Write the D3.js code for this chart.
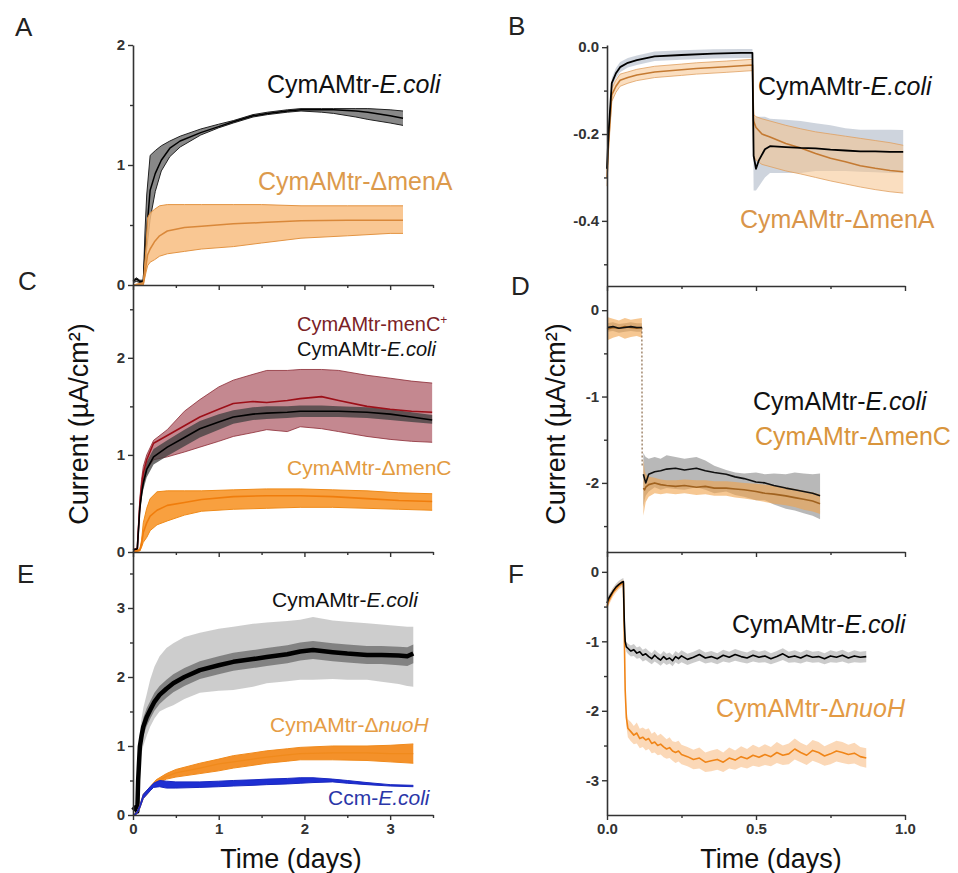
<!DOCTYPE html>
<html><head><meta charset="utf-8">
<script src="https://cdn.jsdelivr.net/npm/d3@7"></script>
<style>body{margin:0;background:#fff}svg{display:block}</style>
</head><body>
<svg id="chart" width="958" height="873"></svg>
<script>
// ---------------- DATA ----------------
// Panel A (time in days, current in uA/cm2)
const aBlkT    = [0, 0.04, 0.08, 0.12, 0.14, 0.16, 0.2, 0.26, 0.33, 0.43, 0.55, 0.79, 1.0, 1.17, 1.4, 1.57, 1.8, 1.96, 2.2, 2.34, 2.6, 2.74, 3.0, 3.15];
const aBlkMean = [0.03, 0.05, 0.03, 0.03, 0.25, 0.45, 0.79, 0.93, 1.04, 1.14, 1.2, 1.27, 1.32, 1.36, 1.41, 1.43, 1.45, 1.46, 1.46, 1.46, 1.45, 1.44, 1.41, 1.39];
const aBlkLo   = [0.02, 0.03, 0.02, 0.02, 0.12, 0.3, 0.55, 0.78, 0.95, 1.07, 1.15, 1.25, 1.31, 1.35, 1.4, 1.42, 1.44, 1.45, 1.44, 1.43, 1.4, 1.38, 1.35, 1.33];
const aBlkHi   = [0.04, 0.06, 0.04, 0.04, 0.45, 0.75, 1.08, 1.12, 1.16, 1.2, 1.24, 1.3, 1.34, 1.37, 1.42, 1.44, 1.46, 1.47, 1.47, 1.47, 1.47, 1.47, 1.46, 1.45];
const aOrgT    = [0, 0.12, 0.15, 0.17, 0.2, 0.25, 0.31, 0.4, 0.6, 0.8, 1.17, 1.5, 1.96, 2.5, 3.0, 3.15];
const aOrgMean = [0.0, 0.01, 0.15, 0.25, 0.3, 0.36, 0.41, 0.45, 0.48, 0.49, 0.51, 0.52, 0.535, 0.54, 0.54, 0.54];
const aOrgLo   = [0.0, 0.0, 0.1, 0.16, 0.19, 0.21, 0.24, 0.26, 0.28, 0.3, 0.32, 0.35, 0.39, 0.41, 0.43, 0.43];
const aOrgHi   = [0.0, 0.02, 0.3, 0.56, 0.6, 0.63, 0.66, 0.67, 0.67, 0.67, 0.67, 0.67, 0.66, 0.66, 0.66, 0.66];

// Panel B
const bBlkT    = [0, 0.005, 0.016, 0.03, 0.044, 0.07, 0.1, 0.16, 0.25, 0.357, 0.45, 0.488, 0.492, 0.5, 0.51, 0.53, 0.547, 0.6, 0.65, 0.7, 0.75, 0.8, 0.85, 0.9, 0.95, 0.994];
const bBlkMean = [-0.28, -0.2, -0.083, -0.06, -0.046, -0.036, -0.03, -0.021, -0.018, -0.015, -0.013, -0.013, -0.25, -0.28, -0.26, -0.235, -0.228, -0.23, -0.232, -0.233, -0.236, -0.238, -0.24, -0.24, -0.241, -0.241];
const bBlkLo   = [-0.3, -0.22, -0.095, -0.072, -0.058, -0.047, -0.041, -0.032, -0.029, -0.026, -0.025, -0.025, -0.33, -0.33, -0.32, -0.3, -0.29, -0.29, -0.29, -0.285, -0.285, -0.285, -0.287, -0.288, -0.29, -0.29];
const bBlkHi   = [-0.26, -0.18, -0.071, -0.048, -0.034, -0.025, -0.019, -0.01, -0.007, -0.005, -0.004, -0.004, -0.17, -0.16, -0.16, -0.16, -0.165, -0.167, -0.17, -0.175, -0.18, -0.187, -0.19, -0.19, -0.19, -0.191];
const bOrgT    = [0, 0.005, 0.016, 0.03, 0.044, 0.07, 0.1, 0.16, 0.25, 0.3, 0.4, 0.488, 0.492, 0.5, 0.52, 0.547, 0.6, 0.65, 0.7, 0.75, 0.8, 0.85, 0.9, 0.95, 0.994];
const bOrgMean = [-0.3, -0.22, -0.11, -0.09, -0.076, -0.07, -0.064, -0.057, -0.052, -0.049, -0.045, -0.041, -0.17, -0.185, -0.2, -0.207, -0.222, -0.232, -0.245, -0.256, -0.264, -0.273, -0.279, -0.284, -0.287];
const bOrgLo   = [-0.32, -0.24, -0.125, -0.104, -0.09, -0.083, -0.077, -0.07, -0.065, -0.062, -0.058, -0.054, -0.25, -0.26, -0.27, -0.275, -0.285, -0.292, -0.3, -0.308, -0.315, -0.322, -0.328, -0.333, -0.336];
const bOrgHi   = [-0.28, -0.2, -0.095, -0.076, -0.062, -0.057, -0.051, -0.044, -0.039, -0.036, -0.032, -0.028, -0.155, -0.16, -0.165, -0.17, -0.18, -0.188, -0.195, -0.2, -0.205, -0.21, -0.215, -0.22, -0.226];

// Panel C
const cT       = [0, 0.05, 0.08, 0.1, 0.12, 0.16, 0.24, 0.4, 0.6, 0.78, 1.0, 1.17, 1.4, 1.56, 1.8, 1.95, 2.2, 2.4, 2.73, 3.0, 3.25, 3.49];
const cRedMean = [0.02, 0.03, 0.5, 0.68, 0.81, 0.95, 1.12, 1.2, 1.3, 1.39, 1.47, 1.53, 1.55, 1.54, 1.56, 1.58, 1.6, 1.56, 1.5, 1.47, 1.45, 1.44];
const cRedLo   = [0.01, 0.02, 0.45, 0.6, 0.72, 0.85, 0.95, 0.98, 1.03, 1.08, 1.14, 1.19, 1.23, 1.26, 1.24, 1.29, 1.27, 1.24, 1.19, 1.16, 1.14, 1.13];
const cRedHi   = [0.03, 0.04, 0.55, 0.75, 0.88, 1.0, 1.15, 1.26, 1.45, 1.57, 1.7, 1.77, 1.83, 1.87, 1.87, 1.88, 1.88, 1.87, 1.82, 1.79, 1.76, 1.74];
const cBlkMean = [0.02, 0.03, 0.45, 0.6, 0.71, 0.85, 0.98, 1.08, 1.18, 1.27, 1.34, 1.39, 1.42, 1.43, 1.44, 1.45, 1.45, 1.45, 1.44, 1.42, 1.39, 1.36];
const cBlkLo   = [0.01, 0.02, 0.4, 0.54, 0.64, 0.77, 0.9, 0.99, 1.09, 1.18, 1.26, 1.32, 1.36, 1.37, 1.38, 1.39, 1.39, 1.39, 1.38, 1.36, 1.34, 1.32];
const cBlkHi   = [0.03, 0.04, 0.5, 0.66, 0.78, 0.93, 1.06, 1.15, 1.26, 1.35, 1.42, 1.46, 1.49, 1.5, 1.5, 1.51, 1.51, 1.5, 1.49, 1.47, 1.44, 1.41];
const cOrgT    = [0, 0.08, 0.1, 0.12, 0.16, 0.2, 0.28, 0.4, 0.6, 0.8, 1.17, 1.56, 1.95, 2.33, 2.73, 3.1, 3.49];
const cOrgMean = [0.0, 0.02, 0.08, 0.2, 0.3, 0.37, 0.43, 0.48, 0.51, 0.54, 0.57, 0.58, 0.58, 0.57, 0.55, 0.53, 0.52];
const cOrgLo   = [0.0, 0.01, 0.05, 0.1, 0.15, 0.22, 0.28, 0.32, 0.38, 0.42, 0.44, 0.45, 0.46, 0.46, 0.45, 0.44, 0.43];
const cOrgHi   = [0.0, 0.03, 0.12, 0.3, 0.45, 0.55, 0.62, 0.63, 0.63, 0.63, 0.64, 0.65, 0.65, 0.64, 0.63, 0.61, 0.6];

// Panel D (null = gap between the two recording phases)
const dT       = [0, 0.02, 0.04, 0.06, 0.08, 0.1, 0.117, null, 0.122, 0.126, 0.13, 0.14, 0.16, 0.18, 0.2, 0.23, 0.26, 0.3, 0.33, 0.36, 0.4, 0.43, 0.46, 0.5, 0.53, 0.56, 0.6, 0.63, 0.66, 0.69, 0.715];
const dBlkMean = [-0.2, -0.19, -0.21, -0.2, -0.19, -0.2, -0.2, null, -1.9, -1.95, -2.0, -1.9, -1.87, -1.86, -1.84, -1.83, -1.85, -1.83, -1.86, -1.88, -1.9, -1.93, -1.95, -1.99, -2.0, -2.03, -2.06, -2.08, -2.1, -2.12, -2.15];
const dBlkLo   = [-0.25, -0.24, -0.26, -0.25, -0.24, -0.25, -0.25, null, -2.28, -2.2, -2.15, -2.1, -2.05, -2.08, -2.06, -2.07, -2.08, -2.05, -2.08, -2.12, -2.1, -2.14, -2.16, -2.2, -2.2, -2.25, -2.3, -2.32, -2.35, -2.38, -2.42];
const dBlkHi   = [-0.15, -0.14, -0.16, -0.15, -0.14, -0.15, -0.15, null, -1.65, -1.68, -1.7, -1.72, -1.7, -1.72, -1.68, -1.7, -1.72, -1.7, -1.74, -1.8, -1.85, -1.88, -1.89, -1.88, -1.9, -1.89, -1.9, -1.88, -1.89, -1.9, -1.89];
const dOrgMean = [-0.22, -0.2, -0.21, -0.19, -0.2, -0.21, -0.2, null, -2.06, -2.08, -2.05, -2.02, -2.0, -2.02, -2.03, -2.04, -2.03, -2.05, -2.04, -2.06, -2.06, -2.07, -2.08, -2.1, -2.12, -2.13, -2.15, -2.17, -2.19, -2.21, -2.24];
const dOrgLo   = [-0.35, -0.32, -0.3, -0.33, -0.31, -0.3, -0.32, null, -2.38, -2.3, -2.22, -2.16, -2.12, -2.13, -2.12, -2.13, -2.12, -2.14, -2.13, -2.15, -2.15, -2.17, -2.18, -2.2, -2.22, -2.24, -2.26, -2.28, -2.31, -2.33, -2.36];
const dOrgHi   = [-0.08, -0.1, -0.12, -0.09, -0.11, -0.1, -0.09, null, -1.72, -1.85, -1.9, -1.93, -1.94, -1.96, -1.97, -1.97, -1.96, -1.97, -1.97, -1.98, -1.98, -1.99, -2.0, -2.01, -2.02, -2.03, -2.05, -2.07, -2.09, -2.11, -2.13];
const dDropT   = [0.117, 0.118];
const dDropV   = [-0.2, -1.8];

// Panel E
const eBlkT    = [0, 0.02, 0.04, 0.05, 0.06, 0.08, 0.1, 0.12, 0.16, 0.2, 0.25, 0.31, 0.39, 0.47, 0.6, 0.78, 1.0, 1.17, 1.4, 1.56, 1.8, 1.95, 2.1, 2.33, 2.5, 2.73, 2.9, 3.1, 3.2, 3.27];
const eBlkMean = [0.07, 0.1, 0.12, 0.05, 0.5, 0.99, 1.15, 1.28, 1.42, 1.52, 1.64, 1.74, 1.83, 1.91, 2.0, 2.1, 2.17, 2.22, 2.26, 2.29, 2.33, 2.37, 2.39, 2.36, 2.34, 2.32, 2.32, 2.31, 2.3, 2.34];
const eBlkLoIn = [0.06, 0.09, 0.11, 0.04, 0.42, 0.88, 1.03, 1.15, 1.29, 1.39, 1.51, 1.61, 1.7, 1.78, 1.87, 1.97, 2.04, 2.09, 2.13, 2.16, 2.2, 2.24, 2.26, 2.23, 2.21, 2.19, 2.19, 2.17, 2.16, 2.2];
const eBlkHiIn = [0.08, 0.11, 0.13, 0.06, 0.58, 1.1, 1.27, 1.41, 1.55, 1.65, 1.77, 1.87, 1.96, 2.04, 2.13, 2.23, 2.3, 2.35, 2.39, 2.42, 2.46, 2.5, 2.52, 2.49, 2.47, 2.45, 2.45, 2.44, 2.43, 2.47];
const eBlkLo   = [0.05, 0.08, 0.1, 0.03, 0.35, 0.75, 0.9, 1.0, 1.15, 1.28, 1.4, 1.5, 1.55, 1.59, 1.68, 1.77, 1.8, 1.81, 1.86, 1.91, 1.94, 1.96, 1.96, 1.97, 1.96, 1.96, 1.93, 1.9, 1.87, 1.86];
const eBlkHi   = [0.09, 0.12, 0.14, 0.07, 0.65, 1.2, 1.4, 1.55, 1.75, 1.96, 2.15, 2.3, 2.42, 2.49, 2.58, 2.64, 2.7, 2.73, 2.77, 2.79, 2.81, 2.83, 2.87, 2.82, 2.8, 2.78, 2.76, 2.74, 2.73, 2.73];
const eOrgT    = [0, 0.04, 0.08, 0.12, 0.2, 0.27, 0.39, 0.5, 0.78, 1.0, 1.17, 1.4, 1.56, 1.8, 1.95, 2.33, 2.73, 3.0, 3.27];
const eOrgMean = [0.0, 0.02, 0.12, 0.27, 0.38, 0.48, 0.56, 0.61, 0.68, 0.74, 0.77, 0.81, 0.84, 0.87, 0.89, 0.9, 0.9, 0.89, 0.89];
const eOrgLo   = [0, 0.01, 0.1, 0.24, 0.35, 0.45, 0.52, 0.55, 0.6, 0.64, 0.68, 0.72, 0.75, 0.78, 0.8, 0.8, 0.79, 0.77, 0.75];
const eOrgHi   = [0, 0.03, 0.14, 0.3, 0.41, 0.51, 0.6, 0.66, 0.75, 0.81, 0.86, 0.9, 0.93, 0.96, 0.98, 1.0, 1.0, 1.01, 1.03];
const eBluT    = [0, 0.04, 0.08, 0.12, 0.2, 0.24, 0.31, 0.39, 0.5, 0.78, 1.0, 1.17, 1.4, 1.56, 1.8, 1.95, 2.1, 2.33, 2.5, 2.73, 3.0, 3.27];
const eBluMean = [0.0, 0.02, 0.12, 0.27, 0.38, 0.43, 0.46, 0.44, 0.44, 0.44, 0.45, 0.46, 0.47, 0.48, 0.49, 0.5, 0.505, 0.5, 0.48, 0.455, 0.43, 0.42];
const eBluLo   = [0, 0.01, 0.1, 0.24, 0.35, 0.4, 0.41, 0.39, 0.39, 0.4, 0.41, 0.42, 0.43, 0.44, 0.45, 0.46, 0.47, 0.48, 0.46, 0.44, 0.42, 0.41];
const eBluHi   = [0, 0.03, 0.14, 0.3, 0.41, 0.46, 0.5, 0.49, 0.48, 0.48, 0.49, 0.5, 0.51, 0.52, 0.53, 0.54, 0.54, 0.52, 0.5, 0.47, 0.44, 0.43];

// Panel F
const fT       = [0, 0.006, 0.013, 0.02, 0.03, 0.04, 0.05, 0.055, 0.058, 0.061, 0.065, 0.07, 0.08, 0.09, 0.1, 0.11, 0.12, 0.13, 0.14, 0.15, 0.16, 0.17, 0.18, 0.19, 0.2, 0.21, 0.22, 0.23, 0.24, 0.25, 0.27, 0.29, 0.31, 0.33, 0.35, 0.37, 0.39, 0.41, 0.43, 0.45, 0.47, 0.49, 0.51, 0.53, 0.55, 0.57, 0.59, 0.61, 0.63, 0.65, 0.67, 0.69, 0.71, 0.73, 0.75, 0.77, 0.79, 0.81, 0.83, 0.85, 0.87];
const fBlkMean = [-0.45, -0.38, -0.33, -0.28, -0.22, -0.18, -0.15, -0.14, -0.7, -1.0, -1.08, -1.1, -1.14, -1.12, -1.17, -1.15, -1.2, -1.18, -1.22, -1.25, -1.2, -1.24, -1.27, -1.22, -1.26, -1.24, -1.28, -1.22, -1.25, -1.21, -1.26, -1.23, -1.19, -1.24, -1.22, -1.25, -1.2, -1.23, -1.19, -1.22, -1.24, -1.2, -1.23, -1.21, -1.25, -1.22, -1.18, -1.23, -1.21, -1.24, -1.2, -1.23, -1.22, -1.25, -1.21, -1.23, -1.2, -1.24, -1.21, -1.23, -1.22];
const fBlkLo   = [-0.5, -0.43, -0.38, -0.33, -0.27, -0.23, -0.2, -0.19, -0.75, -1.05, -1.15, -1.18, -1.22, -1.21, -1.25, -1.24, -1.29, -1.27, -1.3, -1.33, -1.29, -1.32, -1.35, -1.31, -1.34, -1.32, -1.36, -1.3, -1.33, -1.3, -1.34, -1.31, -1.28, -1.32, -1.3, -1.33, -1.29, -1.31, -1.28, -1.3, -1.32, -1.29, -1.31, -1.3, -1.33, -1.3, -1.27, -1.31, -1.3, -1.32, -1.29, -1.31, -1.3, -1.33, -1.3, -1.31, -1.29, -1.32, -1.3, -1.31, -1.3];
const fBlkHi   = [-0.4, -0.33, -0.28, -0.23, -0.17, -0.13, -0.1, -0.09, -0.65, -0.95, -1.01, -1.03, -1.06, -1.04, -1.09, -1.07, -1.12, -1.1, -1.14, -1.17, -1.12, -1.16, -1.19, -1.14, -1.18, -1.16, -1.2, -1.14, -1.17, -1.13, -1.18, -1.15, -1.11, -1.16, -1.14, -1.17, -1.12, -1.15, -1.11, -1.14, -1.16, -1.12, -1.15, -1.13, -1.17, -1.14, -1.1, -1.15, -1.13, -1.16, -1.12, -1.15, -1.14, -1.17, -1.13, -1.15, -1.12, -1.16, -1.13, -1.15, -1.14];
const fOrgMean = [-0.5, -0.42, -0.36, -0.3, -0.25, -0.2, -0.17, -0.16, -0.9, -1.7, -2.1, -2.25, -2.3, -2.35, -2.32, -2.4, -2.38, -2.42, -2.4, -2.47, -2.45, -2.5, -2.48, -2.52, -2.55, -2.53, -2.58, -2.6, -2.58, -2.63, -2.66, -2.7, -2.68, -2.74, -2.72, -2.7, -2.74, -2.68, -2.71, -2.66, -2.69, -2.64, -2.67, -2.63, -2.66, -2.6, -2.64, -2.62, -2.55, -2.6, -2.64, -2.57, -2.6, -2.65, -2.62, -2.58, -2.6, -2.63, -2.61, -2.66, -2.68];
const fOrgLo   = [-0.56, -0.48, -0.42, -0.36, -0.3, -0.25, -0.22, -0.21, -1.0, -1.8, -2.22, -2.38, -2.44, -2.48, -2.47, -2.54, -2.52, -2.57, -2.55, -2.61, -2.6, -2.64, -2.63, -2.67, -2.69, -2.68, -2.72, -2.75, -2.73, -2.77, -2.8, -2.84, -2.83, -2.88, -2.87, -2.85, -2.88, -2.83, -2.85, -2.81, -2.83, -2.79, -2.81, -2.78, -2.8, -2.75, -2.78, -2.77, -2.7, -2.74, -2.78, -2.72, -2.75, -2.79, -2.77, -2.73, -2.75, -2.77, -2.76, -2.8, -2.82];
const fOrgHi   = [-0.44, -0.36, -0.3, -0.24, -0.2, -0.15, -0.12, -0.11, -0.8, -1.6, -1.98, -2.12, -2.16, -2.22, -2.17, -2.26, -2.24, -2.27, -2.25, -2.33, -2.3, -2.36, -2.33, -2.37, -2.41, -2.38, -2.44, -2.45, -2.43, -2.49, -2.52, -2.56, -2.53, -2.6, -2.57, -2.55, -2.6, -2.53, -2.57, -2.51, -2.55, -2.49, -2.53, -2.48, -2.52, -2.45, -2.5, -2.47, -2.4, -2.46, -2.5, -2.42, -2.45, -2.51, -2.47, -2.43, -2.45, -2.49, -2.46, -2.52, -2.54];

// Ticks
const leftXMajor = [0, 1, 2, 3], leftXMinor = [0.5, 1.5, 2.5, 3.5];
const rightXMajor = [0, 0.5, 1.0], rightXMinor = [0.25, 0.75];
const aYMajor = [0, 1, 2], aYMinor = [0.5, 1.5];
const cYMajor = [0, 1, 2], cYMinor = [0.5, 1.5, 2.5];
const eYMajor = [0, 1, 2, 3], eYMinor = [0.5, 1.5, 2.5, 3.5];
const bYMajor = [0, -0.2, -0.4], bYMinor = [-0.1, -0.3, -0.5];
const dYMajor = [0, -1, -2], dYMinor = [-0.5, -1.5, -2.5];
const fYMajor = [0, -1, -2, -3], fYMinor = [-0.5, -1.5, -2.5];

// Text
const panelLetters = ["A", "B", "C", "D", "E", "F"];
const yTitle = "Current (\u00B5A/cm\u00B2)";
const xTitle = "Time (days)";

// ---------------- DRAWING ----------------
const FONT = '"Liberation Sans", Arial, Helvetica, sans-serif';
const svg = d3.select("#chart");

const xL = d3.scaleLinear().domain([0, 3.5]).range([133, 433]);
const xR = d3.scaleLinear().domain([0, 1.0]).range([607, 905]);
const yA = d3.scaleLinear().domain([0, 2]).range([285, 45]);
const yC = d3.scaleLinear().domain([0, 2.75]).range([552, 285]);
const yE = d3.scaleLinear().domain([0, 3.826]).range([815, 551]);
const yB = d3.scaleLinear().domain([-0.55, 0.005]).range([286, 45]);
const yD = d3.scaleLinear().domain([-2.8, 0.28]).range([552, 286]);
const yF = d3.scaleLinear().domain([-3.5, 0.3]).range([815, 551]);

const gData = svg.append("g");
const gAxes = svg.append("g");
const gText = svg.append("g");

function zipRows(t, a, b) {
  return t.map((v, i) => ({ t: v, a: a[i], b: b ? b[i] : null }));
}
function band(x, y, t, lo, hi, fill, op, edge, edgeW) {
  const rows = zipRows(t, lo, hi);
  gData.append("path").datum(rows)
    .attr("d", d3.area().defined(d => d.t != null && d.a != null)
      .x(d => x(d.t)).y0(d => y(d.a)).y1(d => y(d.b)))
    .attr("fill", fill).attr("fill-opacity", op).attr("stroke", "none");
  if (edge) {
    line(x, y, t, lo, edge, edgeW);
    line(x, y, t, hi, edge, edgeW);
  }
}
function line(x, y, t, v, stroke, w, dash) {
  const rows = zipRows(t, v);
  const p = gData.append("path").datum(rows)
    .attr("d", d3.line().defined(d => d.t != null && d.a != null).x(d => x(d.t)).y(d => y(d.a)))
    .attr("fill", "none").attr("stroke", stroke).attr("stroke-width", w)
    .attr("stroke-linejoin", "round");
  if (dash) p.attr("stroke-dasharray", dash);
}

// Panel A
band(xL, yA, aBlkT, aBlkLo, aBlkHi, "#6a6a6a", 0.8, "#222", 1);
line(xL, yA, aBlkT, aBlkMean, "#000", 1.5);
band(xL, yA, aOrgT, aOrgLo, aOrgHi, "#f8bd80", 0.85, "#e39443", 1);
line(xL, yA, aOrgT, aOrgMean, "#d9883a", 1.5);

// Panel B
band(xR, yB, bBlkT, bBlkLo, bBlkHi, "#aeb8c6", 0.6);
band(xR, yB, bOrgT, bOrgLo, bOrgHi, "#f5c28c", 0.55);
line(xR, yB, bOrgT, bOrgLo, "#e0a060", 0.8);
line(xR, yB, bOrgT, bOrgHi, "#e0a060", 0.8);
line(xR, yB, bOrgT, bOrgMean, "#c47a32", 1.6);
line(xR, yB, bBlkT, bBlkMean, "#000", 1.8);

// Panel C
band(xL, yC, cT, cRedLo, cRedHi, "#b0606b", 0.75, "#8c2a33", 0.8);
band(xL, yC, cT, cBlkLo, cBlkHi, "#3e3e3e", 0.75);
line(xL, yC, cT, cRedMean, "#9c0f18", 1.6);
line(xL, yC, cT, cBlkMean, "#000", 1.6);
band(xL, yC, cOrgT, cOrgLo, cOrgHi, "#f7962a", 0.9, "#ef8a18", 1);
line(xL, yC, cOrgT, cOrgMean, "#f07d0c", 1.6);

// Panel D
band(xR, yD, dT, dBlkLo, dBlkHi, "#9a9a9a", 0.7);
band(xR, yD, dT, dOrgLo, dOrgHi, "#f0a24a", 0.6);
line(xR, yD, dDropT, dDropV, "#8b6a4a", 1.2, "2,2");
line(xR, yD, dT, dOrgMean, "#a0621f", 1.6);
line(xR, yD, dT, dBlkMean, "#111", 1.6);

// Panel E
band(xL, yE, eBlkT, eBlkLo, eBlkHi, "#c4c4c4", 0.85);
band(xL, yE, eBlkT, eBlkLoIn, eBlkHiIn, "#7a7a7a", 0.9);
line(xL, yE, eBlkT, eBlkMean, "#000", 4.5);
band(xL, yE, eOrgT, eOrgLo, eOrgHi, "#f4912a", 1, "#f08a1c", 1);
line(xL, yE, eOrgT, eOrgMean, "#f08a1c", 1.2);
band(xL, yE, eBluT, eBluLo, eBluHi, "#1e2fd2", 1, "#1a28c0", 1);

// Panel F
band(xR, yF, fT, fBlkLo, fBlkHi, "#b5b5b5", 0.7);
band(xR, yF, fT, fOrgLo, fOrgHi, "#fac899", 0.7);
line(xR, yF, fT, fOrgMean, "#f08518", 1.6);
line(xR, yF, fT, fBlkMean, "#000", 1.6);

// Axes
function styleAxis(g) {
  g.attr("font-family", FONT).attr("font-size", 15).attr("font-weight", "bold");
  g.select(".domain").attr("stroke", "#333").attr("stroke-width", 1.6);
  g.selectAll(".tick line").attr("stroke", "#333").attr("stroke-width", 1.4);
  g.selectAll(".tick text").attr("fill", "#333");
}
function xAxis(x, yPos, major, minor, fmt) {
  const g = gAxes.append("g").attr("transform", `translate(0,${yPos})`)
    .call(d3.axisBottom(x).tickValues(major).tickSize(5).tickSizeOuter(0).tickPadding(3).tickFormat(fmt || (() => "")));
  styleAxis(g);
  const m = gAxes.append("g").attr("transform", `translate(0,${yPos})`)
    .call(d3.axisBottom(x).tickValues(minor).tickSize(3).tickFormat(() => ""));
  m.select(".domain").remove();
  styleAxis(m);
}
function yAxis(y, xPos, major, minor, fmt) {
  const g = gAxes.append("g").attr("transform", `translate(${xPos},0)`)
    .call(d3.axisLeft(y).tickValues(major).tickSize(5).tickSizeOuter(0).tickPadding(3).tickFormat(fmt));
  styleAxis(g);
  const m = gAxes.append("g").attr("transform", `translate(${xPos},0)`)
    .call(d3.axisLeft(y).tickValues(minor).tickSize(3).tickFormat(() => ""));
  m.select(".domain").remove();
  styleAxis(m);
}
const intFmt = d => d3.format("d")(d).replace("\u2212", "-");
const oneDec = d => d3.format(".1f")(d).replace("\u2212", "-");
yAxis(yA, 133, aYMajor, aYMinor, intFmt);
yAxis(yC, 133, cYMajor, cYMinor, intFmt);
yAxis(yE, 133, eYMajor, eYMinor, intFmt);
yAxis(yB, 607, bYMajor, bYMinor, oneDec);
yAxis(yD, 607, dYMajor, dYMinor, intFmt);
yAxis(yF, 607, fYMajor, fYMinor, intFmt);
xAxis(xL, 285, leftXMajor, leftXMinor);
xAxis(xL, 552, leftXMajor, leftXMinor);
xAxis(xL, 815, leftXMajor, leftXMinor, intFmt);
xAxis(xR, 286, rightXMajor, rightXMinor);
xAxis(xR, 552, rightXMajor, rightXMinor);
xAxis(xR, 815, rightXMajor, rightXMinor, oneDec);

// Text helpers
function label(x, y, size, color, parts) {
  const t = gText.append("text").attr("x", x).attr("y", y)
    .attr("font-family", FONT).attr("font-size", size).attr("fill", color);
  parts.forEach(p => {
    const s = t.append("tspan").text(p.s);
    if (p.i) s.attr("font-style", "italic");
    if (p.sup) s.attr("font-size", size * 0.6).attr("baseline-shift", "super");
  });
  return t;
}
// Panel letters
const letterPos = [[15, 36], [508, 35], [18, 290], [511, 295], [17, 583], [508, 583]];
panelLetters.forEach((L, i) => label(letterPos[i][0], letterPos[i][1], 26, "#222", [{ s: L }]));

// Series labels
const BLK = "#111";
label(267, 93, 25, BLK, [{ s: "CymAMtr-" }, { s: "E.coli", i: 1 }]);
label(258, 190, 25, "#dc9a4c", [{ s: "CymAMtr-\u0394menA" }]);
label(758, 95, 25, BLK, [{ s: "CymAMtr-" }, { s: "E.coli", i: 1 }]);
label(740, 228, 25, "#d9954a", [{ s: "CymAMtr-\u0394menA" }]);
label(297, 331, 20, "#7b2226", [{ s: "CymAMtr-menC" }, { s: "+", sup: 1 }]);
label(297, 356, 20, BLK, [{ s: "CymAMtr-" }, { s: "E.coli", i: 1 }]);
label(287, 475, 21, "#e39b3f", [{ s: "CymAMtr-\u0394menC" }]);
label(753, 410, 25, BLK, [{ s: "CymAMtr-" }, { s: "E.coli", i: 1 }]);
label(755, 445, 25, "#d9953c", [{ s: "CymAMtr-\u0394menC" }]);
label(272, 607, 21, BLK, [{ s: "CymAMtr-" }, { s: "E.coli", i: 1 }]);
label(270, 732, 21, "#e59c45", [{ s: "CymAMtr-\u0394" }, { s: "nuoH", i: 1 }]);
label(328, 805, 21, "#2a36a8", [{ s: "Ccm-" }, { s: "E.coli", i: 1 }]);
label(732, 633, 25, BLK, [{ s: "CymAMtr-" }, { s: "E.coli", i: 1 }]);
label(716, 717, 25, "#e39a44", [{ s: "CymAMtr-\u0394" }, { s: "nuoH", i: 1 }]);

// Axis titles
[[88, 424], [565, 424]].forEach(([x, y]) => {
  gText.append("text").attr("transform", `translate(${x},${y}) rotate(-90)`)
    .attr("text-anchor", "middle").attr("font-family", FONT).attr("font-size", 27)
    .attr("fill", "#111").text(yTitle);
});
[[291, 868], [771, 868]].forEach(([x, y]) => {
  gText.append("text").attr("x", x).attr("y", y)
    .attr("text-anchor", "middle").attr("font-family", FONT).attr("font-size", 27)
    .attr("fill", "#111").text(xTitle);
});
</script>
</body></html>
